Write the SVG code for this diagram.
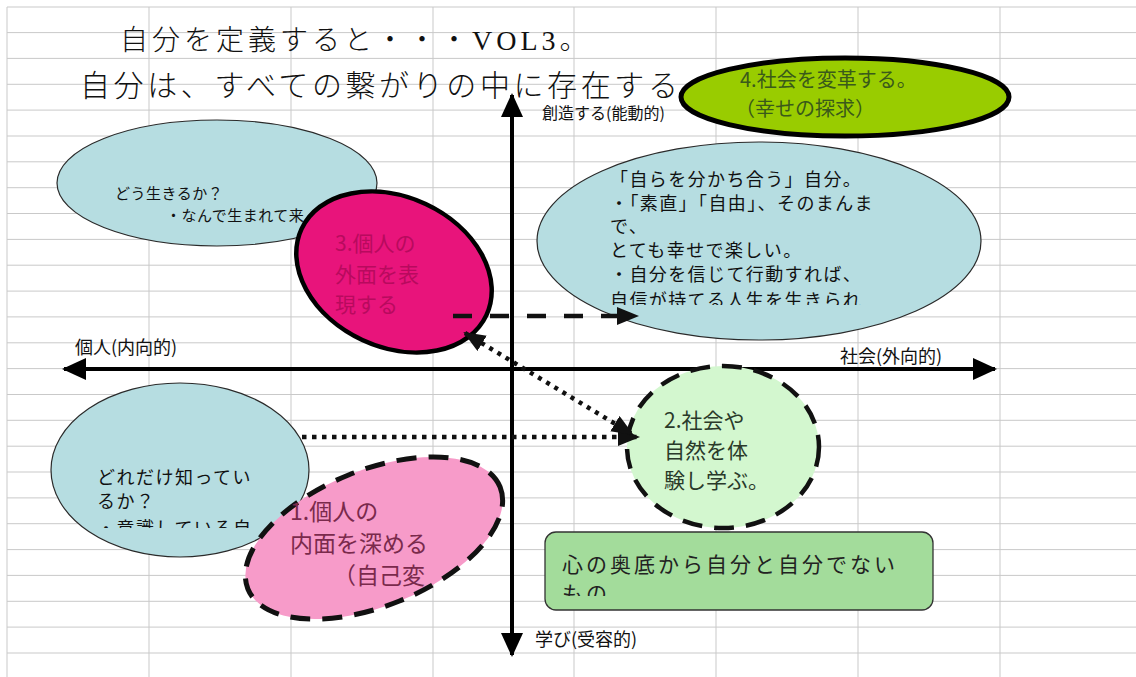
<svg xmlns="http://www.w3.org/2000/svg" width="1136" height="677" viewBox="0 0 1136 677">
<defs>
<style>
.grid line{stroke:#c9c9c9;stroke-width:1}
.jp{font-family:"Noto Sans CJK JP","Liberation Sans",sans-serif}
.blue{fill:#b6dde1;stroke:#2a2a2a;stroke-width:1.2}
.axis{stroke:#000;stroke-width:4;fill:none}
.conn{stroke:#111;stroke-width:4.5;fill:none}
</style>
<marker id="ah" viewBox="0 0 24 22" refX="22" refY="11" markerWidth="24" markerHeight="22" markerUnits="userSpaceOnUse" orient="auto"><path d="M0,0 L24,11 L0,22 Z" fill="#000"/></marker>
<marker id="ah2" viewBox="0 0 22 18" refX="20" refY="9" markerWidth="22" markerHeight="18" markerUnits="userSpaceOnUse" orient="auto-start-reverse"><path d="M0,0 L22,9 L0,18 Z" fill="#111"/></marker>
<clipPath id="cB"><rect x="530" y="130" width="460" height="175"/></clipPath>
<clipPath id="cC"><rect x="40" y="440" width="300" height="88"/></clipPath>
<clipPath id="cR"><rect x="545" y="532" width="388" height="64"/></clipPath>
</defs>
<rect width="1136" height="677" fill="#fff"/>
<g class="grid">
<line x1="7" y1="7" x2="1136" y2="7"/><line x1="7" y1="32.6" x2="1136" y2="32.6"/><line x1="7" y1="58.4" x2="1136" y2="58.4"/><line x1="7" y1="84.3" x2="1136" y2="84.3"/><line x1="7" y1="110.1" x2="1136" y2="110.1"/><line x1="7" y1="136" x2="1136" y2="136"/><line x1="7" y1="161.8" x2="1136" y2="161.8"/><line x1="7" y1="187.7" x2="1136" y2="187.7"/><line x1="7" y1="213.5" x2="1136" y2="213.5"/><line x1="7" y1="239.4" x2="1136" y2="239.4"/><line x1="7" y1="265.2" x2="1136" y2="265.2"/><line x1="7" y1="291.1" x2="1136" y2="291.1"/><line x1="7" y1="316.9" x2="1136" y2="316.9"/><line x1="7" y1="342.8" x2="1136" y2="342.8"/><line x1="7" y1="368.6" x2="1136" y2="368.6"/><line x1="7" y1="394.5" x2="1136" y2="394.5"/><line x1="7" y1="420.3" x2="1136" y2="420.3"/><line x1="7" y1="446.2" x2="1136" y2="446.2"/><line x1="7" y1="472" x2="1136" y2="472"/><line x1="7" y1="497.9" x2="1136" y2="497.9"/><line x1="7" y1="523.7" x2="1136" y2="523.7"/><line x1="7" y1="549.6" x2="1136" y2="549.6"/><line x1="7" y1="575.4" x2="1136" y2="575.4"/><line x1="7" y1="601.3" x2="1136" y2="601.3"/><line x1="7" y1="627.1" x2="1136" y2="627.1"/><line x1="7" y1="653" x2="1136" y2="653"/>
<line x1="7" y1="7" x2="7" y2="677"/><line x1="149" y1="7" x2="149" y2="677"/><line x1="291" y1="7" x2="291" y2="677"/><line x1="433" y1="7" x2="433" y2="677"/><line x1="574" y1="7" x2="574" y2="677"/><line x1="716" y1="7" x2="716" y2="677"/><line x1="858" y1="7" x2="858" y2="677"/><line x1="1000" y1="7" x2="1000" y2="677"/>
</g>
<g id="title" class="jp" fill="#111" font-weight="300">
<text x="120" y="50" font-size="28" letter-spacing="4">自分を定義すると・・・<tspan font-family="Liberation Serif,serif">VOL3</tspan>。</text>
<text x="80" y="96" font-size="30" letter-spacing="3.6">自分は、すべての繋がりの中に存在する</text>
</g>
<g id="axes">
<line class="axis" x1="512" y1="655" x2="512" y2="95" marker-end="url(#ah)"/>
<line class="axis" x1="512" y1="369" x2="512" y2="655" marker-end="url(#ah)"/>
<line class="axis" x1="512" y1="369" x2="64" y2="369" marker-end="url(#ah)"/>
<line class="axis" x1="512" y1="369" x2="995" y2="369" marker-end="url(#ah)"/>
<g class="jp" fill="#111">
<text x="542" y="119" font-size="16">創造する(能動的)</text>
<text x="75" y="354" font-size="18">個人(内向的)</text>
<text x="840" y="363" font-size="18">社会(外向的)</text>
<text x="535" y="646" font-size="18">学び(受容的)</text>
</g>
</g>
<g id="node-how-live">
<ellipse class="blue" cx="217" cy="183" rx="160" ry="63"/>
<text class="jp" font-size="15" fill="#111" letter-spacing="0.5"><tspan x="115" y="199">どう生きるか？</tspan><tspan x="166" y="221">・なんで生まれて来</tspan></text>
</g>
<g id="node-share">
<ellipse class="blue" cx="759" cy="241" rx="222" ry="99"/>
<text class="jp" font-size="18" fill="#111" letter-spacing="1.4" clip-path="url(#cB)"><tspan x="610" y="186">「自らを分かち合う」自分。</tspan><tspan x="610" y="210">・「素直」「自由」、そのまんま</tspan><tspan x="610" y="233">で、</tspan><tspan x="610" y="257">とても幸せで楽しい。</tspan><tspan x="610" y="281">・自分を信じて行動すれば、</tspan><tspan x="610" y="307">自信が持てる人生を生きられ</tspan></text>
</g>
<g id="node-know">
<ellipse class="blue" cx="180" cy="470" rx="129" ry="87"/>
<text class="jp" font-size="18" fill="#111" letter-spacing="1.5" clip-path="url(#cC)"><tspan x="97" y="484">どれだけ知ってい</tspan><tspan x="97" y="508">るか？</tspan><tspan x="97" y="535">・意識している自</tspan></text>
</g>
<g id="node-3">
<ellipse cx="394" cy="272" rx="102" ry="75" transform="rotate(25 394 272)" fill="#e8147b" stroke="#000" stroke-width="4.5"/>
<text class="jp" font-size="21" fill="#b80a5e"><tspan x="335" y="251">3.個人の</tspan><tspan x="335" y="282">外面を表</tspan><tspan x="335" y="312">現する</tspan></text>
</g>
<g id="node-4">
<ellipse cx="845" cy="97" rx="164" ry="39" fill="#99cc00" stroke="#000" stroke-width="5"/>
<text class="jp" font-size="20" fill="#3a5a1a"><tspan x="740" y="87">4.社会を変革する。</tspan><tspan x="735" y="116">（幸せの探求）</tspan></text>
</g>
<g id="node-1">
<ellipse cx="374" cy="538" rx="136" ry="68" transform="rotate(-22 374 538)" fill="#f79bc9" stroke="#111" stroke-width="5" stroke-dasharray="20 12"/>
<text class="jp" font-size="23" fill="#7a2a4c"><tspan x="290" y="520">1.個人の</tspan><tspan x="290" y="552">内面を深める</tspan><tspan x="333" y="584">（自己変</tspan></text>
</g>
<g id="node-2">
<ellipse cx="723" cy="447" rx="96" ry="81" fill="#d3f7cf" stroke="#111" stroke-width="4.5" stroke-dasharray="20 12"/>
<text class="jp" font-size="21" fill="#2a3a2a"><tspan x="664" y="428">2.社会や</tspan><tspan x="664" y="458">自然を体</tspan><tspan x="664" y="488">験し学ぶ。</tspan></text>
</g>
<g id="node-note">
<rect x="545" y="532" width="388" height="78" rx="11" fill="#a3dc9b" stroke="#333" stroke-width="1.3"/>
<text class="jp" font-size="21" fill="#222" letter-spacing="3" clip-path="url(#cR)"><tspan x="562" y="572">心の奥底から自分と自分でない</tspan><tspan x="562" y="601">もの</tspan></text>
</g>
<g id="connectors">
<line class="conn" x1="453" y1="316" x2="637" y2="316" stroke-dasharray="19 18" marker-end="url(#ah2)"/>
<line class="conn" x1="302" y1="437" x2="638" y2="437" stroke-dasharray="4.5 5.5" marker-end="url(#ah2)"/>
<line class="conn" x1="465" y1="333" x2="632" y2="434" stroke-width="4" stroke-dasharray="4 5.5" marker-start="url(#ah2)" marker-end="url(#ah2)"/>
</g>
</svg>
